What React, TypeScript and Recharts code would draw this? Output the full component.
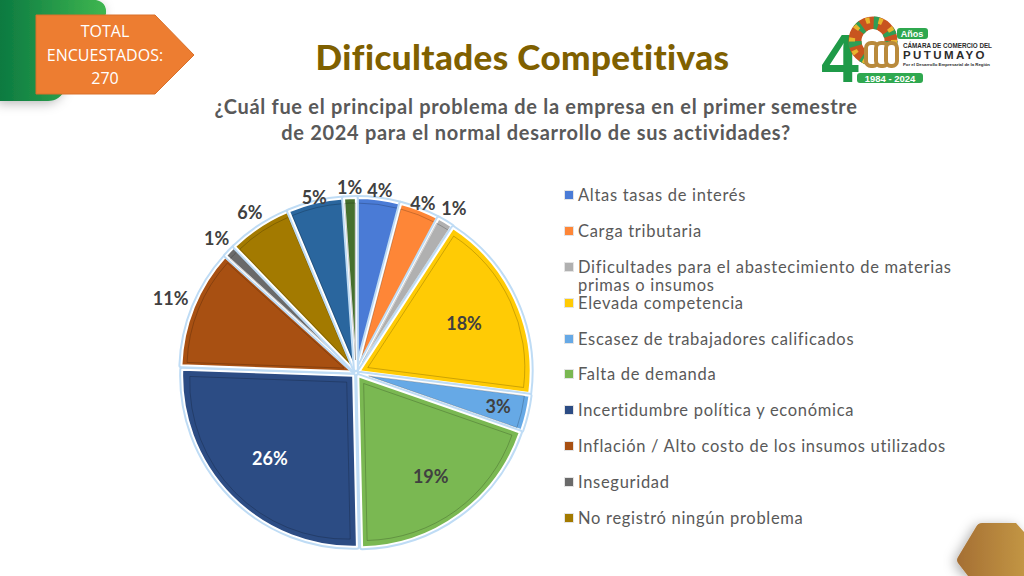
import { PieChart, Pie, Cell, Legend, Sector } from 'recharts';

const categories = [
  'Altas tasas de interés',
  'Carga tributaria',
  'Dificultades para el abastecimiento de materias primas o insumos',
  'Elevada competencia',
  'Escasez de trabajadores calificados',
  'Falta de demanda',
  'Incertidumbre política y económica',
  'Inflación / Alto costo de los insumos utilizados',
  'Inseguridad',
  'No registró ningún problema',
  'Otros',
  'Ninguno',
];
const shares = [4.1, 3.7, 1.4, 17.8, 3.3, 19.3, 25.9, 11.1, 1.1, 5.9, 5.2, 1.1];
const colors = [
  '#4a7bd6', '#fe8637', '#b0b0b0', '#ffcb05', '#66a9e6', '#7ab852',
  '#2c4c84', '#a85012', '#6a6a6a', '#a37a00', '#2a669e', '#46702e',
];
// distance of each percentage label from the pie centre
const labelRadius = [185, 183, 192, 119, 146, 127, 121, 200, 194, 193, 181, 186];
const legendCount = 10;

const CX = 356;
const CY = 373;
const R = 171;
const RAD = Math.PI / 180;
const FONT = 'Lato, "Open Sans", sans-serif';

const chartData = categories.map((name, i) => ({ name, value: shares[i] }));

// exploded slice with pale glow, white rim and an inset bevel line
function BevelSlice(props: any) {
  const { cx, cy, outerRadius, startAngle, endAngle, midAngle, fill } = props;
  const ux = Math.cos(-midAngle * RAD);
  const uy = Math.sin(-midAngle * RAD);
  const ox = cx + 4 * ux;
  const oy = cy + 4 * uy;
  const common = { innerRadius: 0, startAngle, endAngle };
  return (
    <g>
      <Sector {...common} cx={ox} cy={oy} outerRadius={outerRadius} fill={fill} stroke="#bfdcf5" strokeWidth={6} strokeLinejoin="round" />
      <Sector {...common} cx={ox} cy={oy} outerRadius={outerRadius} fill={fill} stroke="#ffffff" strokeWidth={2} strokeLinejoin="round" />
      <Sector
        {...common}
        cx={ox + 9 * ux}
        cy={oy + 9 * uy}
        outerRadius={outerRadius - 14}
        fill="none"
        stroke="#000000"
        strokeOpacity={0.2}
        strokeWidth={1}
      />
    </g>
  );
}

function PercentLabel(props: any) {
  const { cx, cy, midAngle, index, percent } = props;
  const r = labelRadius[index];
  const x = cx + r * Math.cos(-midAngle * RAD);
  const y = cy + r * Math.sin(-midAngle * RAD);
  return (
    <text
      x={x}
      y={y}
      textAnchor="middle"
      dominantBaseline="central"
      fontFamily={FONT}
      fontWeight={700}
      fontSize={18}
      fill={index === 6 ? '#ffffff' : '#404040'}
    >
      {Math.round(percent * 100)}%
    </text>
  );
}

function LegendList() {
  return (
    <div style={{ fontFamily: FONT, fontSize: 16.5, color: '#595959', letterSpacing: 0.7 }}>
      {categories.slice(0, legendCount).map((name, i) => (
        <div
          key={name}
          style={{
            position: 'relative',
            paddingLeft: 13,
            width: 400,
            lineHeight: '18px',
            height: 35.9,
            boxSizing: 'border-box',
          }}
        >
          <span
            style={{
              position: 'absolute',
              left: 0,
              top: 5,
              width: 8,
              height: 8,
              background: colors[i],
              outline: '1px solid #e4e4e4',
            }}
          />
          {name}
        </div>
      ))}
    </div>
  );
}

function Logo() {
  const gold = '#b98a3c';
  return (
    <svg width={1024} height={100} style={{ position: 'absolute', left: 0, top: 0 }}>
      <text x={821} y={82} fontFamily="Liberation Sans" fontWeight={700} fontSize={68} fill="#1f9a48">4</text>
      <circle cx={873} cy={41} r={18} fill="none" stroke="#c8541f" strokeWidth={13} />
      <circle cx={873} cy={41} r={18} fill="none" stroke="#2f9e55" strokeWidth={13} strokeDasharray="5 12" />
      <circle cx={873} cy={41} r={21} fill="none" stroke="#e9b52c" strokeWidth={6} strokeDasharray="4 9" />
      <circle cx={873} cy={38} r={9} fill="#ffffff" />
      <rect x={866} y={43} width={12} height={23} rx={5} fill="#ffffff" stroke={gold} strokeWidth={4} />
      <rect x={876} y={43} width={12} height={23} rx={5} fill="#ffffff" stroke={gold} strokeWidth={4} />
      <rect x={886} y={43} width={11} height={23} rx={5} fill="#ffffff" stroke={gold} strokeWidth={4} />
      <rect x={897} y={28} width={31} height={11} rx={3} fill="#2fa84f" />
      <text x={912} y={37} textAnchor="middle" fontFamily="Liberation Sans" fontWeight={700} fontSize={9} fill="#ffffff">Años</text>
      <text x={903} y={48} fontFamily="Liberation Sans" fontWeight={700} fontSize={6.3} fill="#2b2b2b">CÁMARA DE COMERCIO DEL</text>
      <text x={903} y={59} fontFamily="Liberation Sans" fontWeight={700} fontSize={11.5} letterSpacing={2.4} fill="#2b2b2b">PUTUMAYO</text>
      <text x={903} y={66} fontFamily="Liberation Sans" fontWeight={700} fontSize={4.3} fill="#2b2b2b">Por el Desarrollo Empresarial de la Región</text>
      <rect x={857} y={73} width={66} height={10} rx={3} fill="#2fa84f" />
      <text x={890} y={82} textAnchor="middle" fontFamily="Liberation Sans" fontWeight={700} fontSize={9.5} fill="#ffffff">1984 - 2024</text>
    </svg>
  );
}

function Decoration() {
  return (
    <svg width={1024} height={576} style={{ position: 'absolute', left: 0, top: 0 }}>
      <defs>
        <linearGradient id="greenBand" x1="0" y1="0" x2="1" y2="0">
          <stop offset="0%" stopColor="#0b7a41" />
          <stop offset="100%" stopColor="#3fb650" />
        </linearGradient>
        <linearGradient id="goldHex" x1="0" y1="0" x2="1" y2="0">
          <stop offset="0%" stopColor="#a56f33" />
          <stop offset="100%" stopColor="#c29544" />
        </linearGradient>
        <filter id="softShadow" x="-30%" y="-30%" width="160%" height="160%">
          <feDropShadow dx={-3} dy={2} stdDeviation={6} floodColor="#000000" floodOpacity={0.3} />
        </filter>
      </defs>
      <path d="M0 0 H96 Q107 2 106 14 L66 88 Q60 101 48 101 H0 Z" fill="url(#greenBand)" filter="url(#softShadow)" />
      <path d="M36 15 H155 L194 55 L155 94 H36 Z" fill="#ed7d31" stroke="#d9702a" strokeWidth={1} />
      <path d="M982 523 H1016 L1024 532 V576 H968 L958 563 Q956 560 958 557 L976 527 Q978 523 982 523 Z" fill="url(#goldHex)" filter="url(#softShadow)" />
    </svg>
  );
}

export default function App() {
  return (
    <div style={{ position: 'absolute', left: 0, top: 0, width: 1024, height: 576, background: '#ffffff', overflow: 'hidden' }}>
      <Decoration />
      <div
        style={{
          position: 'absolute', left: 36, top: 20, width: 138, textAlign: 'center', fontFamily: '"Open Sans", sans-serif',
          fontSize: 16, lineHeight: '23.5px', color: '#ffffff',
        }}
      >
        TOTAL
        <br />
        ENCUESTADOS:
        <br />
        270
      </div>
      <div
        style={{
          position: 'absolute', left: 200, top: 33, width: 645, textAlign: 'center', fontFamily: FONT,
          fontWeight: 900, fontSize: 35, lineHeight: '46px', color: '#7f6000', letterSpacing: 0.4,
        }}
      >
        Dificultades Competitivas
      </div>
      <div
        style={{
          position: 'absolute', left: 176, top: 93, width: 720, textAlign: 'center', fontFamily: FONT,
          fontWeight: 700, fontSize: 20, lineHeight: '26px', color: '#595959', letterSpacing: 0.7,
        }}
      >
        ¿Cuál fue el principal problema de la empresa en el primer semestre
        <br />
        de 2024 para el normal desarrollo de sus actividades?
      </div>
      <Logo />
      <div style={{ position: 'absolute', left: 0, top: 0 }}>
        <PieChart width={1024} height={576} margin={{ top: 0, right: 0, bottom: 0, left: 0 }}>
          <Legend
            content={<LegendList />}
            wrapperStyle={{ position: 'absolute', left: 565, top: 186, width: 410, bottom: 'auto' }}
          />
          <Pie
            data={chartData}
            dataKey="value"
            nameKey="name"
            cx={CX}
            cy={CY}
            outerRadius={R}
            startAngle={90}
            endAngle={-270}
            stroke="none"
            label={PercentLabel}
            labelLine={false}
            shape={BevelSlice}
            isAnimationActive={false}
          >
            {chartData.map((d, i) => (
              <Cell key={d.name} fill={colors[i]} />
            ))}
          </Pie>
        </PieChart>
      </div>
    </div>
  );
}
